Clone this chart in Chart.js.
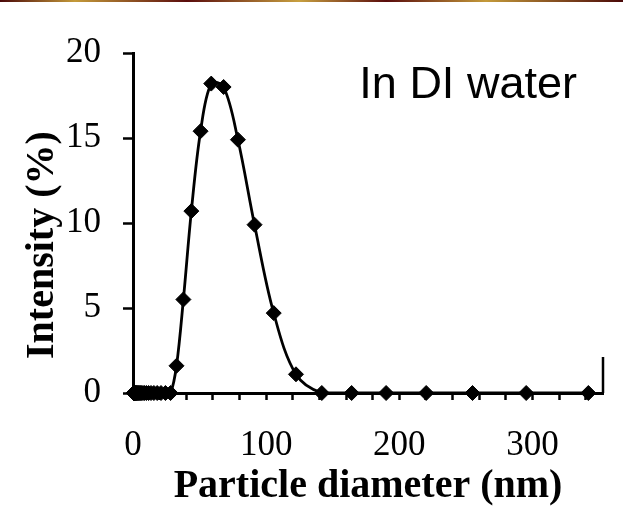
<!DOCTYPE html>
<html lang="en">
<head>
    <meta charset="UTF-8">
    <title>Particle size distribution</title>
    <script src="https://cdn.jsdelivr.net/npm/chart.js"></script>
    <style>
        body {
            margin: 0;
            padding: 0;
            background-color: #fff;
        }

        .topbar {
            position: absolute;
            left: 0;
            top: 0;
            width: 623px;
            height: 2px;
            background: linear-gradient(to right, #4a0808, #c49a3a 12%, #5a0c0c 30%, #c8a040 48%, #5a0c0c 62%, #c49a3a 78%, #4a0808);
        }

        .chart-box {
            width: 623px;
            height: 507px;
        }
    </style>
</head>
<body>
    <div class="topbar"></div>
    <div class="chart-box">
        <canvas id="dlsChart" width="623" height="507"></canvas>
    </div>

    <script>
        // particle diameter bins (nm) and intensity (%)
        const diameters = [0.4, 0.4632, 0.5365, 0.6213, 0.7195, 0.8332, 0.9649, 1.117, 1.294, 1.499,
            1.736, 2.01, 2.328, 2.696, 3.122, 3.615, 4.187, 4.849, 5.615, 6.503,
            7.531, 8.721, 10.1, 11.7, 13.54, 15.69, 18.17, 21.04, 24.36, 28.21,
            32.67, 37.84, 43.82, 50.75, 58.77, 68.06, 78.82, 91.28, 105.7, 122.4,
            141.8, 164.2, 190.1, 220.2, 255.0, 295.3, 342.0];
        const intensities = [0, 0, 0, 0, 0, 0, 0, 0, 0, 0,
            0, 0, 0, 0, 0, 0, 0, 0, 0, 0,
            0, 0, 0, 0, 0, 0, 0, 0, 0, 0,
            1.6, 5.5, 10.7, 15.4, 18.2, 18.0, 14.9, 9.9, 4.7, 1.1,
            0, 0, 0, 0, 0, 0, 0];
        const xTickLabels = [0, 100, 200, 300];
        const yTickLabels = [0, 5, 10, 15, 20];

        const points = diameters.map(function(d, i) {
            return { x: d, y: intensities[i] };
        });

        const serif = '"Liberation Serif", "Times New Roman", serif';

        const extraText = {
            id: 'extraText',
            afterDraw(chart) {
                const ctx = chart.ctx;
                const area = chart.chartArea;
                ctx.save();
                ctx.fillStyle = '#000';

                // y axis title
                ctx.font = 'bold 40px ' + serif;
                ctx.textAlign = 'center';
                ctx.textBaseline = 'middle';
                ctx.translate(43, area.top + (area.bottom - area.top) * 0.565);
                ctx.rotate(-Math.PI / 2);
                ctx.fillText('Intensity (%)', 0, 0);
                ctx.restore();

                // short frame piece at the right end of the x axis
                ctx.save();
                ctx.strokeStyle = '#000';
                ctx.lineWidth = 2.5;
                ctx.beginPath();
                ctx.moveTo(area.right, area.bottom);
                ctx.lineTo(area.right, area.bottom - 36);
                ctx.stroke();
                ctx.restore();

                // label inside the plot
                ctx.save();
                ctx.fillStyle = '#000';
                ctx.font = '45px "Liberation Sans", Arial, sans-serif';
                ctx.textAlign = 'left';
                ctx.textBaseline = 'middle';
                ctx.fillText('In DI water', chart.scales.x.getPixelForValue(170), chart.scales.y.getPixelForValue(18.1));
                ctx.restore();
            }
        };

        const ctx = document.getElementById('dlsChart').getContext('2d');
        new Chart(ctx, {
            type: 'line',
            data: {
                datasets: [
                    {
                        data: points,
                        borderColor: '#000',
                        borderWidth: 2.8,
                        backgroundColor: '#000',
                        pointStyle: 'rectRot',
                        pointRadius: 7.5,
                        pointBorderWidth: 1,
                        pointBackgroundColor: '#000',
                        pointBorderColor: '#000',
                        tension: 0.35,
                        fill: false,
                        clip: false,
                    },
                ],
            },
            options: {
                responsive: false,
                animation: false,
                devicePixelRatio: 1,
                layout: {
                    padding: { left: 5, right: 20, top: 53, bottom: 0 },
                },
                plugins: {
                    legend: { display: false },
                    tooltip: { enabled: false },
                },
                scales: {
                    x: {
                        type: 'linear',
                        min: 0,
                        max: 353,
                        afterFit: function(scale) { scale.height = 114; },
                        ticks: {
                            stepSize: 20,
                            includeBounds: false,
                            autoSkip: false,
                            maxRotation: 0,
                            padding: 25,
                            color: '#000',
                            font: { family: serif, size: 35 },
                            callback: function(value) {
                                return xTickLabels.includes(value) ? String(value) : '';
                            },
                        },
                        grid: {
                            drawOnChartArea: false,
                            drawTicks: true,
                            tickLength: 7,
                            tickWidth: 2.5,
                            tickColor: '#000',
                        },
                        border: { color: '#000', width: 3 },
                        title: {
                            display: true,
                            text: 'Particle diameter (nm)',
                            color: '#000',
                            font: { family: serif, size: 40, weight: 'bold', lineHeight: 1 },
                            padding: { top: 0, bottom: 0 },
                        },
                    },
                    y: {
                        min: 0,
                        max: 20,
                        afterFit: function(scale) { scale.width = 128; },
                        ticks: {
                            stepSize: 5,
                            padding: 22,
                            color: '#000',
                            font: { family: serif, size: 35 },
                            callback: function(value) {
                                return yTickLabels.includes(value) ? String(value) : '';
                            },
                        },
                        grid: {
                            drawOnChartArea: false,
                            drawTicks: true,
                            tickLength: 10,
                            tickWidth: 2.5,
                            tickColor: '#000',
                        },
                        border: { color: '#000', width: 3 },
                    },
                },
            },
            plugins: [extraText],
        });
    </script>
</body>
</html>
